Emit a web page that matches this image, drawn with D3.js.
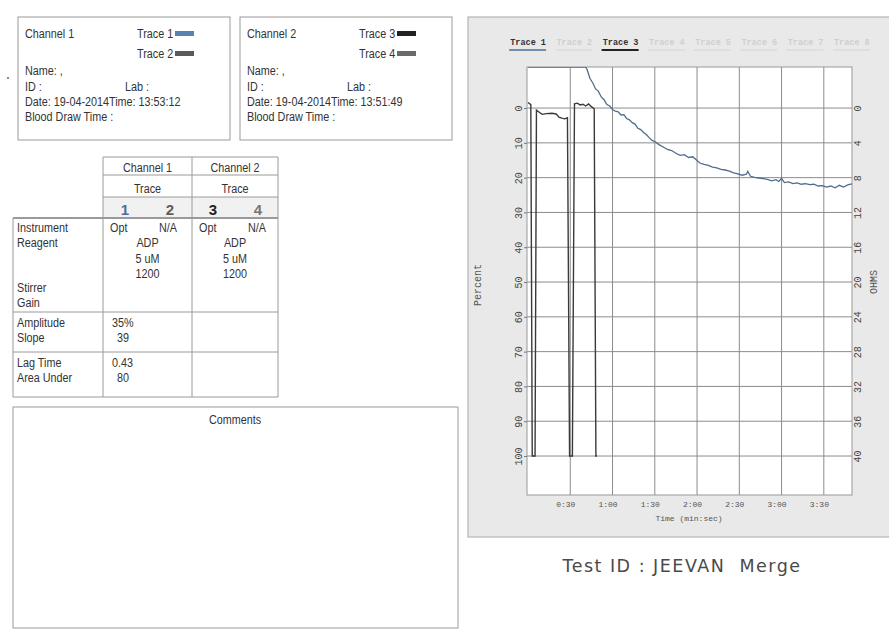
<!DOCTYPE html>
<html>
<head>
<meta charset="utf-8">
<script src="https://cdn.jsdelivr.net/npm/d3@7"></script>
<style>body{margin:0;background:#fff}</style>
</head>
<body>
<script>
// ---- data ----
var channels = ["Channel 1", "Channel 2"];
var channelTraces = [["Trace 1", "Trace 2"], ["Trace 3", "Trace 4"]];
var traceSwatch = [["#5b80b4", "#5a5a5a"], ["#222", "#6a6a6a"]];
var channelDates = ["19-04-2014", "19-04-2014"];
var channelTimes = ["13:53:12", "13:51:49"];

var traceNums = ["1", "2", "3", "4"];
var traceNumColors = ["#4d6e96", "#5e5e5e", "#222", "#777"];
var instrument = [["Opt", "N/A"], ["Opt", "N/A"]];
var reagent = ["ADP", "ADP"];
var dose = ["5 uM", "5 uM"];
var stirrer = ["1200", "1200"];
var amplitude = ["35%", ""];
var slope = ["39", ""];
var lagTime = ["0.43", ""];
var areaUnder = ["80", ""];

var legendTraces = ["Trace 1", "Trace 2", "Trace 3", "Trace 4", "Trace 5", "Trace 6", "Trace 7", "Trace 8"];
var legendOn = [true, false, true, false, false, false, false, false];

var pctTicks = [0, 10, 20, 30, 40, 50, 60, 70, 80, 90, 100];
var ohmTicks = [0, 4, 8, 12, 16, 20, 24, 28, 32, 36, 40];
var timeTicks = [30, 60, 90, 120, 150, 180, 210];

// trace 1 (seconds, percent) - pinned at top of scale until ~0:41
var trace1 = [[0,-11.8],[41,-11.8],[42,-11],[44,-8.5],[46,-7.2],[48,-5.5],[50,-4.8],[52,-3.2],[54,-2.4],[56,-1.0],
  [58,-0.6],[60,0.4],[62,0.9],[64,1.1],[66,2.0],[68,1.9],[70,3.0],[72,3.4],[74,4.2],[76,4.6],[78,5.8],
  [80,6.2],[82,7.0],[84,7.6],[86,8.5],[88,9.3],[90,9.6],[93,10.5],[96,11.2],[99,11.9],[102,12.2],
  [105,13.0],[108,13.6],[111,13.4],[114,14.2],[117,14.0],[120,15.1],[122,15.8],[125,16.2],[128,16.5],
  [131,17.0],[134,17.2],[137,17.6],[140,17.8],[143,18.1],[146,18.6],[149,18.9],[152,19.3],[155,19.0],
  [156,18.2],[158,19.6],[161,19.9],[164,20.1],[167,20.3],[170,20.5],[173,20.9],[176,20.6],[178,21.1],
  [180,20.2],[182,21.4],[185,21.2],[188,21.7],[191,21.5],[194,21.9],[197,21.7],[200,22.0],[203,21.9],
  [206,22.4],[209,22.3],[212,22.7],[215,22.4],[218,22.9],[221,22.2],[224,22.7],[227,22.1],[230,21.8]];

// trace 3 (seconds, percent)
var trace3 = [[0,-1.6],[2,-1.0],[3,100],[5,100],[6,0.6],[8,1.2],[10,1.8],[13,1.6],[17,1.5],[20,1.7],
  [22,2.6],[24,2.9],[26,3.1],[28,2.8],[29.5,100],[31.5,100],[33,-1.2],[35,-1.4],[37,-0.9],[39,-1.1],
  [41,-0.6],[43,-1.2],[45,-0.4],[47,0.2],[48.2,100],[49,100]];

// ---- page ----
var W = 889, H = 630;
var svg = d3.select("body").append("svg").attr("width", W).attr("height", H)
    .style("font-family", "'Liberation Sans',Arial,sans-serif");

var txt = "#333", lineC = "#9a9a9a";

// condensed print text (no narrow font installed, so squeeze horizontally)
function ptext(sel, x, y, s, anchor) {
  return sel.append("text").attr("transform", "translate(" + x + "," + y + ") scale(0.8,1)")
    .attr("text-anchor", anchor || "start").attr("fill", txt).style("font-size", "13.5px").text(s);
}

// small stray dot from the scan
svg.append("circle").attr("cx", 8).attr("cy", 78).attr("r", 1).attr("fill", "#666");

// channel boxes
var boxX = [18, 240];
channels.forEach(function(ch, i) {
  var g = svg.append("g").attr("transform", "translate(" + boxX[i] + ",17)");
  g.append("rect").attr("width", 212).attr("height", 123).attr("fill", "none").attr("stroke", lineC);
  ptext(g, 7, 21, ch);
  channelTraces[i].forEach(function(tr, k) {
    ptext(g, 119, 21 + k * 20, tr);
    g.append("rect").attr("x", 157).attr("y", 14 + k * 20).attr("width", 19).attr("height", 5)
      .attr("fill", traceSwatch[i][k]);
  });
  ptext(g, 7, 58, "Name: ,");
  ptext(g, 7, 74, "ID :");
  ptext(g, 107, 74, "Lab :");
  ptext(g, 7, 89, "Date: " + channelDates[i] + "Time: " + channelTimes[i]);
  ptext(g, 7, 104, "Blood Draw Time :");
});

// parameter table
var tb = svg.append("g");
var colX = [13, 103, 192, 278];
var hl = function(x1, x2, y, w) {
  tb.append("line").attr("x1", x1).attr("x2", x2).attr("y1", y).attr("y2", y)
    .attr("stroke", lineC).attr("stroke-width", w || 1);
};
var vl = function(x, y1, y2) {
  tb.append("line").attr("x1", x).attr("x2", x).attr("y1", y1).attr("y2", y2).attr("stroke", lineC);
};
tb.append("rect").attr("x", 103).attr("y", 197).attr("width", 175).attr("height", 21).attr("fill", "#f1f1f1");
hl(103, 278, 157); hl(103, 278, 175); hl(103, 278, 197); hl(13, 278, 218, 2);
hl(13, 278, 312); hl(13, 278, 352); hl(13, 278, 397);
vl(13, 218, 397); vl(103, 157, 397); vl(192, 157, 397); vl(278, 157, 397);

channels.forEach(function(ch, i) {
  var cx = (colX[i + 1] + colX[i + 2]) / 2, x0 = colX[i + 1];
  ptext(tb, cx, 172, ch, "middle");
  ptext(tb, cx, 193, "Trace", "middle");
  ptext(tb, x0 + 7, 232, instrument[i][0]);
  ptext(tb, x0 + 56, 232, instrument[i][1]);
  ptext(tb, cx, 247, reagent[i], "middle");
  ptext(tb, cx, 263, dose[i], "middle");
  ptext(tb, cx, 278, stirrer[i], "middle");
  ptext(tb, x0 + 9, 327, amplitude[i]);
  ptext(tb, x0 + 14, 342, slope[i]);
  ptext(tb, x0 + 9, 367, lagTime[i]);
  ptext(tb, x0 + 14, 382, areaUnder[i]);
});
var numX = [125, 170, 213, 258];
traceNums.forEach(function(n, i) {
  tb.append("text").attr("x", numX[i]).attr("y", 215).attr("text-anchor", "middle")
    .attr("fill", traceNumColors[i]).style("font-weight", "bold").style("font-size", "15px").text(n);
});
[["Instrument", 232], ["Reagent", 247], ["Stirrer", 292], ["Gain", 307], ["Amplitude", 327],
 ["Slope", 342], ["Lag Time", 367], ["Area Under", 382]].forEach(function(r) { ptext(tb, 17, r[1], r[0]); });

// comments box
svg.append("rect").attr("x", 13).attr("y", 407).attr("width", 445).attr("height", 221)
  .attr("fill", "none").attr("stroke", lineC);
ptext(svg, 235, 424, "Comments", "middle");

// ---- chart panel ----
var mono = "'Liberation Mono','DejaVu Sans Mono',monospace";
var panel = svg.append("g").style("font-family", mono);
panel.append("rect").attr("x", 468).attr("y", 17).attr("width", 440).attr("height", 520)
  .attr("fill", "#e9e9e9").attr("stroke", "#a8a8a8");

var plotL = 527, plotR = 852, plotT = 67, plotB = 495;
var x = d3.scaleLinear().domain([0, 230]).range([528, plotR]);
var y = d3.scaleLinear().domain([-11.8, 111.2]).range([plotT, plotB]);
var yR = d3.scaleLinear().domain([-11.8 * 0.4, 111.2 * 0.4]).range([plotT, plotB]);

panel.append("rect").attr("x", plotL).attr("y", plotT).attr("width", plotR - plotL).attr("height", plotB - plotT)
  .attr("fill", "#fff");

// grid
panel.append("g").selectAll("line").data(pctTicks).enter().append("line")
  .attr("x1", plotL).attr("x2", plotR).attr("y1", function(d) { return y(d); }).attr("y2", function(d) { return y(d); })
  .attr("stroke", "#8c8c8c");
panel.append("g").selectAll("line").data(timeTicks).enter().append("line")
  .attr("y1", plotT).attr("y2", plotB).attr("x1", function(d) { return x(d); }).attr("x2", function(d) { return x(d); })
  .attr("stroke", "#8c8c8c");
panel.append("rect").attr("x", plotL).attr("y", plotT).attr("width", plotR - plotL).attr("height", plotB - plotT)
  .attr("fill", "none").attr("stroke", "#999");

// axes
var fmtTime = function(s) { return Math.floor(s / 60) + ":" + d3.format("02d")(s % 60); };
var ax = panel.append("g").attr("transform", "translate(" + plotL + ",0)")
  .call(d3.axisLeft(y).tickValues(pctTicks).tickSize(3).tickFormat(d3.format("d")));
var axR = panel.append("g").attr("transform", "translate(" + plotR + ",0)")
  .call(d3.axisRight(yR).tickValues(ohmTicks).tickSize(0).tickFormat(d3.format("d")));
var axB = panel.append("g").attr("transform", "translate(0," + plotB + ")")
  .call(d3.axisBottom(x).tickValues(timeTicks).tickSize(0).tickFormat(fmtTime));
[ax, axR, axB].forEach(function(a) {
  a.select(".domain").remove();
  a.selectAll("line").attr("stroke", "#777");
  a.selectAll("text").attr("fill", "#444").style("font-family", mono).style("font-size", "10px");
});
ax.selectAll("text").attr("x", null).attr("dy", "0.35em").attr("text-anchor", "middle")
  .attr("transform", "translate(-9,0) rotate(-90)");
axR.selectAll("text").attr("x", null).attr("dy", "0.35em").attr("text-anchor", "middle")
  .attr("transform", "translate(5,0) rotate(-90)");
axB.selectAll("text").attr("y", 6).attr("dx", -5).attr("fill", "#555").style("font-size", "8px");

panel.append("text").attr("transform", "translate(481,285) rotate(-90)").attr("text-anchor", "middle")
  .attr("fill", "#555").style("font-size", "10px").text("Percent");
panel.append("text").attr("transform", "translate(877,282) rotate(-90)").attr("text-anchor", "middle")
  .attr("fill", "#555").style("font-size", "10px").text("OHMS");
panel.append("text").attr("x", 689).attr("y", 521).attr("text-anchor", "middle")
  .attr("fill", "#555").style("font-size", "8px").text("Time (min:sec)");

// legend
var lx = d3.scaleBand().domain(legendTraces).range([505, 875]);
var lg = panel.append("g").selectAll("g").data(legendTraces).enter().append("g")
  .attr("transform", function(d) { return "translate(" + (lx(d) + lx.bandwidth() / 2) + ",0)"; });
lg.append("text").attr("y", 45).attr("text-anchor", "middle").style("font-size", "8.5px")
  .style("font-weight", "bold")
  .attr("fill", function(d, i) { return legendOn[i] ? "#333" : "#cfcfcf"; }).text(function(d) { return d; });
lg.append("line").attr("x1", -19).attr("x2", 18).attr("y1", 50).attr("y2", 50)
  .attr("stroke-width", function(d, i) { return legendOn[i] ? 2.2 : 1; })
  .attr("stroke", function(d, i) { return i === 0 ? "#6f8fb0" : (legendOn[i] ? "#222" : "#d4d4d4"); });

// traces
svg.append("clipPath").attr("id", "plotclip").append("rect")
  .attr("x", plotL).attr("y", plotT).attr("width", plotR - plotL).attr("height", plotB - plotT);
var line = d3.line().x(function(d) { return x(d[0]); }).y(function(d) { return y(d[1]); });
var traces = panel.append("g").attr("clip-path", "url(#plotclip)");
traces.append("path").datum(trace3).attr("d", line).attr("fill", "none")
  .attr("stroke", "#3a3a3a").attr("stroke-width", 1.4);
traces.append("path").datum(trace1).attr("d", line).attr("fill", "none")
  .attr("stroke", "#4f6d8c").attr("stroke-width", 1.3);

// footer
svg.append("text").attr("x", 682).attr("y", 572).attr("text-anchor", "middle")
  .attr("fill", "#4a4a4a").style("font-family", "'DejaVu Sans',Verdana,sans-serif")
  .style("font-size", "17.5px").style("letter-spacing", "1.5px").text("Test ID : JEEVAN\u00a0 Merge");
</script>
</body>
</html>
